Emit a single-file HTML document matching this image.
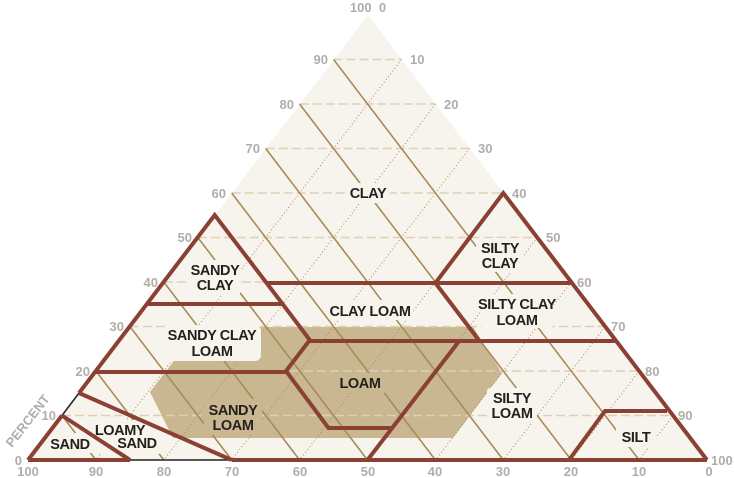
<!DOCTYPE html>
<html><head><meta charset="utf-8"><style>
html,body{margin:0;padding:0;background:#fff;}
svg{display:block;}
.lbl{font-family:"Liberation Sans Narrow","Liberation Sans",sans-serif;font-weight:bold;font-size:14.5px;fill:#231f1c;text-anchor:middle;letter-spacing:-0.4px;}
.tk{font-family:"Liberation Sans",sans-serif;font-weight:bold;font-size:13px;fill:#b0adaa;}
</style></head><body>
<svg width="734" height="478" viewBox="0 0 734 478" xmlns="http://www.w3.org/2000/svg">
<polygon points="28,460 368,15 707,460" fill="#f7f4ed"/>
<polygon points="200,327 473,327 502,373 453,438 173,438 150,392" fill="#c9b791"/>
<g stroke="#ddd0b3" stroke-width="1.6" stroke-dasharray="9,4">
<line x1="62" y1="415.5" x2="673" y2="415.5"/>
<line x1="95.9" y1="371" x2="639.1" y2="371"/>
<line x1="129.9" y1="326.5" x2="605.2" y2="326.5"/>
<line x1="163.8" y1="282" x2="571.2" y2="282"/>
<line x1="197.8" y1="237.5" x2="537.3" y2="237.5"/>
<line x1="231.7" y1="193" x2="503.3" y2="193"/>
<line x1="265.7" y1="148.5" x2="469.4" y2="148.5"/>
<line x1="299.6" y1="104" x2="435.4" y2="104"/>
<line x1="333.6" y1="59.5" x2="401.5" y2="59.5"/>
</g>
<g stroke="#a98a58" stroke-width="1" stroke-dasharray="1,2.5">
<line x1="401.5" y1="59.5" x2="95.9" y2="460"/>
<line x1="435.4" y1="104" x2="163.8" y2="460"/>
<line x1="469.4" y1="148.5" x2="231.7" y2="460"/>
<line x1="503.3" y1="193" x2="299.6" y2="460"/>
<line x1="537.3" y1="237.5" x2="367.5" y2="460"/>
<line x1="571.2" y1="282" x2="435.4" y2="460"/>
<line x1="605.2" y1="326.5" x2="503.3" y2="460"/>
<line x1="639.1" y1="371" x2="571.2" y2="460"/>
<line x1="673" y1="415.5" x2="639.1" y2="460"/>
</g>
<g stroke="#a98a58" stroke-width="1.6">
<line x1="333.6" y1="59.5" x2="639.1" y2="460"/>
<line x1="299.6" y1="104" x2="571.2" y2="460"/>
<line x1="265.7" y1="148.5" x2="503.3" y2="460"/>
<line x1="231.7" y1="193" x2="435.4" y2="460"/>
<line x1="197.8" y1="237.5" x2="367.5" y2="460"/>
<line x1="163.8" y1="282" x2="299.6" y2="460"/>
<line x1="129.9" y1="326.5" x2="231.7" y2="460"/>
<line x1="95.9" y1="371" x2="163.8" y2="460"/>
<line x1="62" y1="415.5" x2="95.9" y2="460"/>
</g>
<g stroke="#222" stroke-width="1.5">
<line x1="62" y1="415.5" x2="79" y2="393"/>
<line x1="130" y1="460" x2="232" y2="460"/>
</g>
<g fill="#f7f4ed">
<rect x="346" y="183" width="44" height="20" rx="3"/>
<rect x="476" y="238" width="48" height="34" rx="3"/>
<rect x="189" y="260" width="52" height="34" rx="3"/>
<rect x="328" y="300" width="84" height="20" rx="3"/>
<rect x="481" y="294" width="72" height="34" rx="3"/>
<rect x="163" y="325" width="98" height="36" rx="6"/>
<rect x="487" y="388" width="50" height="34" rx="3"/>
<rect x="616" y="427" width="40" height="20" rx="3"/>
<rect x="44" y="433" width="50" height="20" rx="3"/>
<rect x="92" y="420" width="70" height="34" rx="3"/>
</g>
<g fill="#c9b791">
<rect x="336" y="373" width="50" height="20" rx="3"/>
<rect x="204" y="399" width="58" height="36" rx="3"/>
</g>
<g stroke="#8a4033" stroke-width="4" fill="none" stroke-linejoin="miter" stroke-linecap="butt">
<polyline points="28,460 62,415.5"/>
<polyline points="79,393 214.7,215 282.6,304 309.8,340 286,371 328.5,428 393,428"/>
<line x1="28" y1="460" x2="130" y2="460"/>
<line x1="232" y1="460" x2="707" y2="460"/>
<line x1="146.8" y1="304" x2="282.6" y2="304"/>
<line x1="265.6" y1="283" x2="571.2" y2="283"/>
<polyline points="435.4,283 503.3,193 707,460"/>
<line x1="435.4" y1="283" x2="479.5" y2="341"/>
<line x1="309.8" y1="341" x2="615.3" y2="341"/>
<line x1="95.9" y1="372" x2="288" y2="372"/>
<line x1="459.2" y1="341" x2="367.5" y2="460"/>
<line x1="79" y1="393" x2="231.7" y2="460"/>
<line x1="62" y1="415.5" x2="130" y2="460"/>
<polyline points="569,460 605,411 667,411"/>
</g>
<text class="lbl" x="368" y="198">CLAY</text>
<text class="lbl" x="500" y="253">SILTY</text><text class="lbl" x="500" y="268">CLAY</text>
<text class="lbl" x="215" y="275">SANDY</text><text class="lbl" x="215" y="290">CLAY</text>
<text class="lbl" x="370" y="316">CLAY LOAM</text>
<text class="lbl" x="517" y="309">SILTY CLAY</text><text class="lbl" x="517" y="325">LOAM</text>
<text class="lbl" x="212" y="340">SANDY CLAY</text><text class="lbl" x="212" y="356">LOAM</text>
<text class="lbl" x="360" y="388">LOAM</text>
<text class="lbl" x="233" y="415">SANDY</text><text class="lbl" x="233" y="430">LOAM</text>
<text class="lbl" x="512" y="403">SILTY</text><text class="lbl" x="512" y="418">LOAM</text>
<text class="lbl" x="636" y="442">SILT</text>
<text class="lbl" x="70" y="449">SAND</text>
<text class="lbl" x="120" y="435">LOAMY</text><text class="lbl" x="137" y="448">SAND</text>
<g class="tk">
<text x="368" y="12" text-anchor="middle">100&#160;&#160;0</text>
<g text-anchor="end">
<text x="22" y="465">0</text>
<text x="56" y="420">10</text>
<text x="90" y="376">20</text>
<text x="124" y="331">30</text>
<text x="158" y="287">40</text>
<text x="192" y="242">50</text>
<text x="226" y="198">60</text>
<text x="260" y="153">70</text>
<text x="294" y="109">80</text>
<text x="328" y="64">90</text>
</g>
<text x="410" y="64">10</text>
<text x="444" y="109">20</text>
<text x="478" y="153">30</text>
<text x="512" y="198">40</text>
<text x="546" y="242">50</text>
<text x="577" y="287">60</text>
<text x="611" y="331">70</text>
<text x="645" y="376">80</text>
<text x="678" y="420">90</text>
<text x="711" y="465">100</text>
<g text-anchor="middle">
<text x="28" y="476">100</text>
<text x="96" y="476">90</text>
<text x="164" y="476">80</text>
<text x="232" y="476">70</text>
<text x="300" y="476">60</text>
<text x="368" y="476">50</text>
<text x="435" y="476">40</text>
<text x="503" y="476">30</text>
<text x="571" y="476">20</text>
<text x="639" y="476">10</text>
<text x="709" y="476">0</text>
</g>
<text x="12" y="448" transform="rotate(-52 12 448)">PERCENT</text>
</g>
</svg>
</body></html>
